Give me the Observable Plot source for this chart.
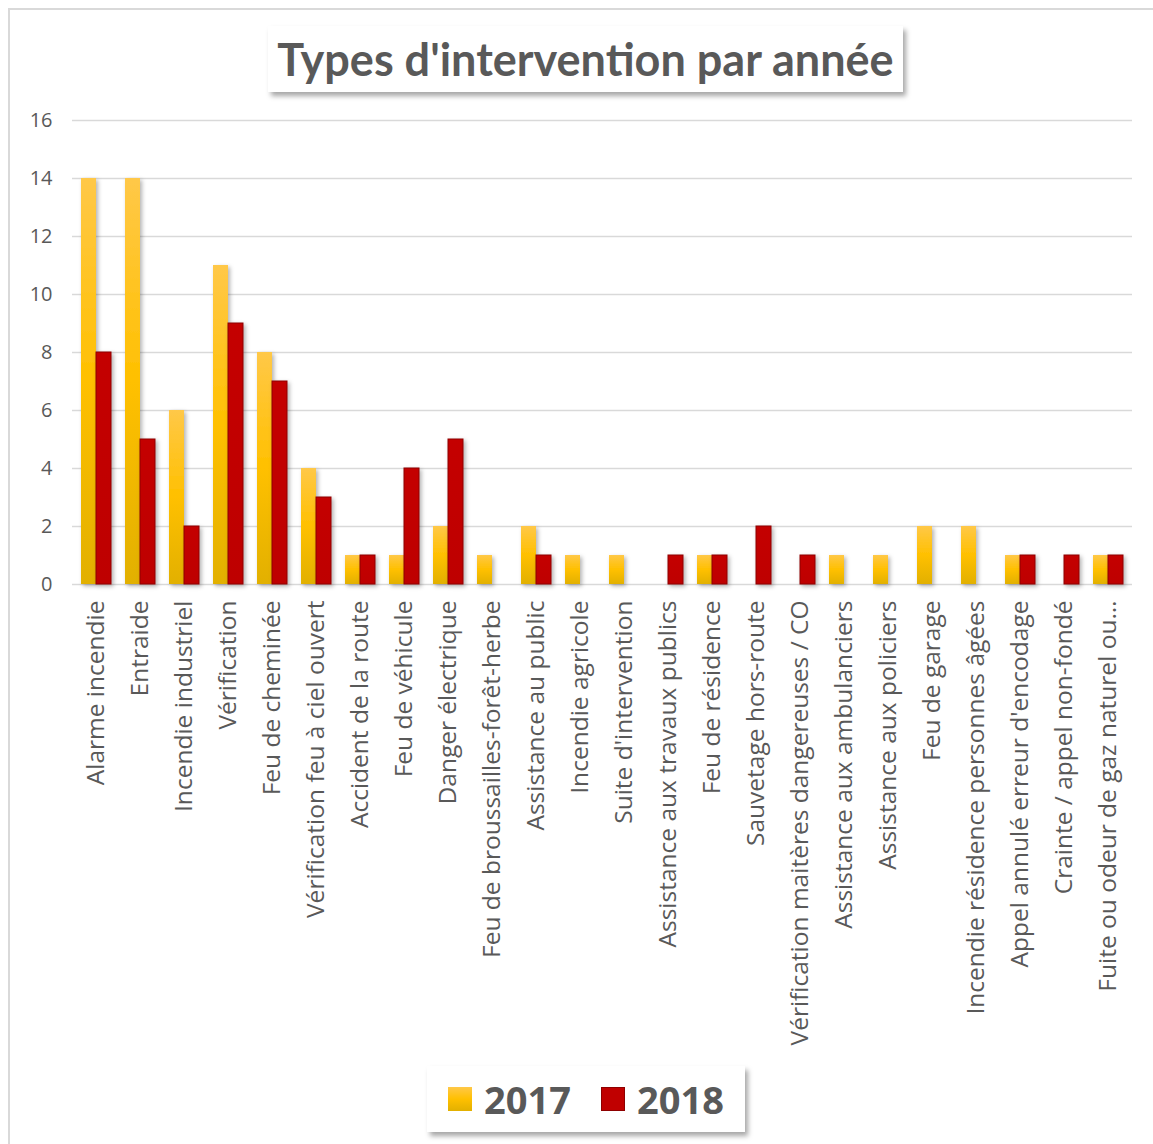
<!DOCTYPE html>
<html>
<head>
<meta charset="utf-8">
<script src="https://cdn.jsdelivr.net/npm/d3@7"></script>
<script src="https://cdn.jsdelivr.net/npm/@observablehq/plot@0.6"></script>
<style>
  html, body { margin: 0; padding: 0; background: #fff; }
  body { width: 1153px; height: 1144px; position: relative; overflow: hidden; font-family: "Open Sans", sans-serif; }
  #border { position: absolute; left: 8px; top: 8px; width: 1200px; height: 1200px; border-left: 2px solid #d9d9d9; border-top: 2px solid #d9d9d9; box-sizing: border-box; }
  #title { position: absolute; left: 268px; top: 26px; width: 635px; height: 66px; background: #fff;
    box-shadow: 3px 4px 5px rgba(0,0,0,0.35); display: flex; align-items: center; justify-content: center;
    font-family: Lato, sans-serif; font-weight: 700; font-size: 45px; color: #595959; }
  #chart { position: absolute; left: 0; top: 100px; }
  #legend { position: absolute; left: 427px; top: 1066px; width: 318px; height: 66px; background: #fff;
    box-shadow: 3px 4px 5px rgba(0,0,0,0.35); display: flex; align-items: center; justify-content: center; gap: 0; }
  .item { display: flex; align-items: center; font-weight: 700; font-size: 38px; color: #595959; }
  .sw { width: 24px; height: 24px; margin-right: 12px; box-sizing: border-box; }
</style>
</head>
<body>
<div id="border"></div>
<div id="title">Types d'intervention par année</div>
<div id="chart"></div>
<div id="legend"></div>
<script>
const categories = [
  "Alarme incendie", "Entraide", "Incendie industriel", "Vérification", "Feu de cheminée",
  "Vérification feu à ciel ouvert", "Accident de la route", "Feu de véhicule", "Danger électrique",
  "Feu de broussailles-forêt-herbe", "Assistance au public", "Incendie agricole", "Suite d'intervention",
  "Assistance aux travaux publics", "Feu de résidence", "Sauvetage hors-route",
  "Vérification maitères dangereuses / CO", "Assistance aux ambulanciers", "Assistance aux policiers",
  "Feu de garage", "Incendie résidence personnes âgées", "Appel annulé erreur d'encodage",
  "Crainte / appel non-fondé", "Fuite ou odeur de gaz naturel ou…"
];
const values2017 = [14, 14, 6, 11, 8, 4, 1, 1, 2, 1, 2, 1, 1, 0, 1, 0, 0, 1, 1, 2, 2, 1, 0, 1];
const values2018 = [8, 5, 2, 9, 7, 3, 1, 4, 5, 0, 1, 0, 0, 1, 1, 2, 1, 0, 0, 0, 0, 1, 1, 1];
const years = ["2017", "2018"];
const yTicks = [0, 2, 4, 6, 8, 10, 12, 14, 16];

const data = categories.map((c, i) => ({cat: c, v2017: values2017[i], v2018: values2018[i]}));

const defs = () => {
  const d = d3.create("svg:defs");
  const g1 = d.append("linearGradient").attr("id", "g2017").attr("x1", 0).attr("y1", 0).attr("x2", 0).attr("y2", 1);
  g1.append("stop").attr("offset", "0%").attr("stop-color", "#FFC848");
  g1.append("stop").attr("offset", "50%").attr("stop-color", "#FFC000");
  g1.append("stop").attr("offset", "100%").attr("stop-color", "#E2B000");
  const g2 = d.append("linearGradient").attr("id", "g2018").attr("x1", 0).attr("y1", 0).attr("x2", 0).attr("y2", 1);
  g2.append("stop").attr("offset", "0%").attr("stop-color", "#C40000");
  g2.append("stop").attr("offset", "100%").attr("stop-color", "#BE0000");
  const f = d.append("filter").attr("id", "shadow").attr("x", "-30%").attr("y", "-10%").attr("width", "160%").attr("height", "130%");
  f.append("feDropShadow").attr("dx", 2).attr("dy", 2).attr("stdDeviation", 2).attr("flood-color", "#000").attr("flood-opacity", 0.3);
  return d.node();
};

const plot = Plot.plot({
  width: 1153,
  height: 960,
  marginLeft: 72,
  marginRight: 21,
  marginTop: 20,
  marginBottom: 476,
  style: {fontFamily: "'Open Sans', sans-serif", color: "#595959", background: "transparent"},
  x: {domain: categories, paddingInner: 0.32, paddingOuter: 0.12, label: null},
  y: {domain: [0, 16], label: null},
  marks: [
    defs,
    Plot.gridY(yTicks, {stroke: "#d9d9d9", strokeOpacity: 1, strokeWidth: 1.5}),
    Plot.ruleY([0], {stroke: "#d0d0d0", strokeWidth: 2.5}),
    Plot.barY(data, {x: "cat", y: "v2017", fill: "url(#g2017)", insetRight: 15}),
    Plot.barY(data, {x: "cat", y: "v2018", fill: "url(#g2018)", stroke: "#8E0000", strokeWidth: 1, insetLeft: 15}),
    Plot.axisY({ticks: yTicks, tickSize: 0, tickPadding: 20, fontSize: 20, fill: "#595959"}),
    Plot.axisX({tickSize: 0, tickPadding: 16, tickRotate: -90, fontSize: 24.5, fill: "#595959"})
  ]
});
const svg = d3.select(plot);
svg.selectAll("g[aria-label='bar'], g[aria-label='rule']").attr("filter", "url(#shadow)");
// right edge of the plot area, from the x scale's range
const xr = plot.scale("x").range, yr = plot.scale("y").range;
svg.append("line").attr("x1", xr[1]).attr("x2", xr[1]).attr("y1", yr[1]).attr("y2", yr[0])
  .attr("stroke", "#d9d9d9").attr("stroke-width", 1.5).attr("filter", "url(#shadow)");
document.getElementById("chart").appendChild(plot);

const legendColors = {"2017": "linear-gradient(#FFC848, #FFC000 50%, #E2B000)", "2018": "#C00000"};
const legend = d3.select("#legend");
years.forEach((y, i) => {
  const it = legend.append("div").attr("class", "item").style("margin-left", i ? "30px" : "0");
  it.append("div").attr("class", "sw").style("background", legendColors[y])
    .style("border", y === "2018" ? "1px solid #8E0000" : "none");
  it.append("span").text(y);
});
</script>
</body>
</html>
